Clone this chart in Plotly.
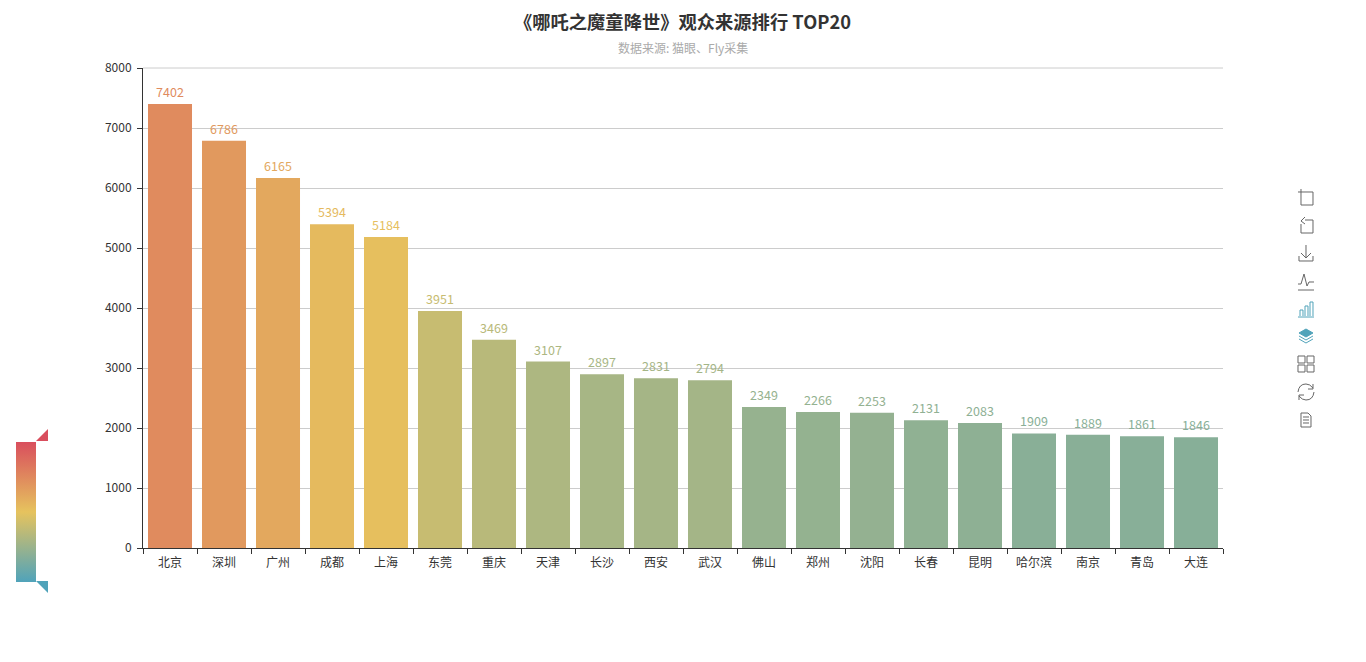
import plotly.graph_objects as go

cities = ["北京","深圳","广州","成都","上海","东莞","重庆","天津","长沙","西安","武汉","佛山","郑州","沈阳","长春","昆明","哈尔滨","南京","青岛","大连"]
viewers = [7402,6786,6165,5394,5184,3951,3469,3107,2897,2831,2794,2349,2266,2253,2131,2083,1909,1889,1861,1846]
y_ticks = [0,1000,2000,3000,4000,5000,6000,7000,8000]
scale_min, scale_max = 0, 10000
stops = [(80,163,186),(230,195,94),(217,78,93)]
W, H = 1366, 662
L, R, T, B = 143, 1223, 68, 548

def blend(v):
    t = (v-scale_min)/(scale_max-scale_min)*2
    i = 0 if t < 1 else 1
    f = t-i
    return tuple(stops[i][k]+(stops[i+1][k]-stops[i][k])*f for k in range(3))
def css(c):
    return f"rgb({c[0]:.0f},{c[1]:.0f},{c[2]:.0f})"

colorscale = [[0,css(stops[0])],[0.5,css(stops[1])],[1,css(stops[2])]]

fig = go.Figure(go.Bar(
    x=cities, y=viewers,
    marker=dict(color=viewers, colorscale=colorscale, cmin=scale_min, cmax=scale_max,
                line_width=0,
                colorbar=dict(xref="container", yref="container", x=16/W, xanchor="left",
                              y=1-609/H, yanchor="top", lenmode="pixels", len=140,
                              thickness=20, thicknessmode="pixels", showticklabels=False,
                              ticks="", outlinewidth=0, xpad=0, ypad=0, borderwidth=0)),
    text=viewers, textposition="outside", cliponaxis=False,
    textfont=dict(size=12.5, color=[css(blend(v)) for v in viewers]),
    hovertemplate="%{x}: %{y}<extra></extra>",
))

def px(x): return (x-L)/(R-L)
def py(y): return (B-y)/(B-T)
def path(points):
    out=[]
    for cmd in points:
        if len(cmd)==3:
            out.append(f"{cmd[0]} {px(cmd[1]):.5f} {py(cmd[2]):.5f}")
        elif len(cmd)==5:
            out.append(f"{cmd[0]} {px(cmd[1]):.5f} {py(cmd[2]):.5f} {px(cmd[3]):.5f} {py(cmd[4]):.5f}")
        else:
            out.append(cmd[0])
    return " ".join(out)

shapes=[dict(type="line", xref="paper", yref="paper", x0=0, x1=1, y0=1, y1=1, line=dict(color="#cccccc", width=1))]
def add(points, line="#666666", fill=None, width=1):
    shapes.append(dict(type="path", xref="paper", yref="paper", path=path(points),
                       line=dict(color=line,width=width), fillcolor=fill or "rgba(0,0,0,0)"))
# visual map handles
add([("M",36,441),("L",48,441),("L",48,429),("Z",)], line="#d94e5d", fill="#d94e5d", width=0)
add([("M",36,581),("L",48,581),("L",48,593),("Z",)], line="#50a3ba", fill="#50a3ba", width=0)
# toolbox icons
B1="#50a3ba"
add([("M",1302,192),("L",1313,192),("L",1313,205),("L",1301,205),("L",1301,189)])
add([("M",1298,192),("L",1302,192)])
add([("M",1305,220),("L",1313,220),("L",1313,233),("L",1301,233),("L",1301,224)])
add([("M",1305,217),("L",1301,221),("L",1305,224)])
add([("M",1306,245),("L",1306,257)]); add([("M",1301,253),("L",1306,258),("L",1311,253)])
add([("M",1299,256),("L",1299,261),("L",1313,261),("L",1313,256)])
add([("M",1298,284),("L",1301,284),("L",1304,274),("L",1307,286),("L",1309,282),("L",1314,282)])
add([("M",1298,290),("L",1314,290)])
for a,b in [(1300,310),(1305,306),(1310,302)]:
    add([("M",a,316),("L",a,b),("L",a+3,b),("L",a+3,316)], line=B1)
add([("M",1298,317),("L",1314,317)], line=B1)
add([("M",1306,329),("L",1313,333),("L",1306,337),("L",1299,333),("Z",)], line=B1, fill=B1)
add([("M",1299,336),("L",1306,340),("L",1313,336)], line=B1)
add([("M",1299,339),("L",1306,343),("L",1313,339)], line=B1)
for x0 in (1298,1307):
    for y0 in (356,365):
        add([("M",x0,y0),("L",x0+7,y0),("L",x0+7,y0+7),("L",x0,y0+7),("Z",)])
add([("M",1298,392),("Q",1299,384,1306,384),("Q",1310,384,1313,388)])
add([("M",1314,392),("Q",1313,400,1306,400),("Q",1302,400,1299,396)])
add([("M",1313,384),("L",1313,389),("L",1308,389)])
add([("M",1299,400),("L",1299,395),("L",1304,395)])
add([("M",1301,413),("L",1308,413),("L",1311,416),("L",1311,427),("L",1301,427),("Z",)])
for yy in (417,420,423):
    add([("M",1303,yy),("L",1309,yy)])

fig.update_layout(
    width=W, height=H, autosize=False,
    margin=dict(l=L,r=W-R,t=T,b=H-B,pad=0),
    paper_bgcolor="white", plot_bgcolor="white",
    font=dict(family="Noto Sans CJK SC, Noto Sans", size=12, color="#333333"),
    bargap=0.185, showlegend=False, shapes=shapes,
    xaxis=dict(type="category", tickson="boundaries", ticks="outside", ticklen=5, tickcolor="#333333",
               showline=True, linecolor="#333333", linewidth=1, showgrid=False, ticklabelstandoff=4,
               tickfont=dict(size=12,color="#333333")),
    yaxis=dict(range=[0,8000], tickvals=y_ticks, ticks="outside", ticklen=5, tickcolor="#333333",
               showline=True, linecolor="#333333", linewidth=1, gridcolor="#cccccc", gridwidth=1,
               zeroline=False, ticklabelstandoff=3, tickfont=dict(size=12,color="#333333")),
    title=dict(text="<b>《哪吒之魔童降世》观众来源排行 TOP20</b>", x=682.5/W, xanchor="center", y=1-23/H, yanchor="middle",
               font=dict(size=18.3,color="#333333")),
    annotations=[dict(text="数据来源: 猫眼、Fly采集", xref="paper", yref="paper", x=px(683), y=py(47),
                      showarrow=False, xanchor="center", yanchor="middle", font=dict(size=12,color="#aaaaaa"))],
)
fig.write_html("out.html", config=dict(displayModeBar=False), post_script="document.body.style.margin='0';")
